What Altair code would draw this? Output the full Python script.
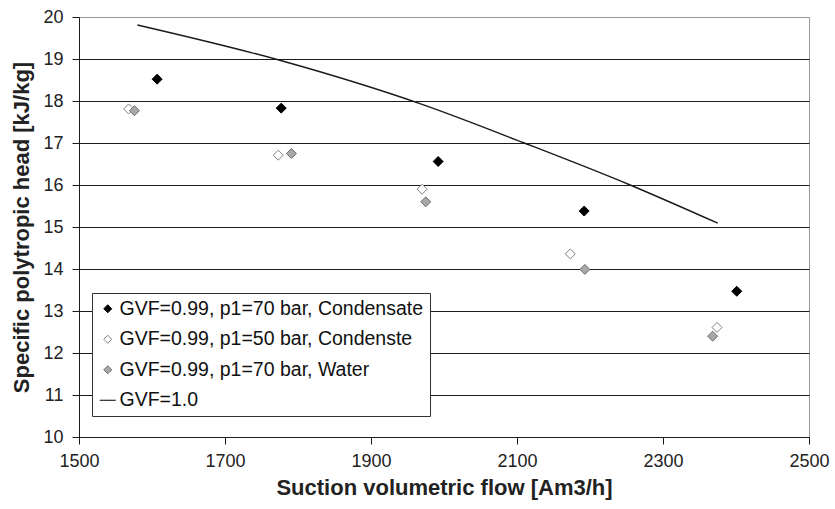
import altair as alt
import pandas as pd

# Series names (as shown in the legend)
series_names = [
    "GVF=0.99, p1=70 bar, Condensate",
    "GVF=0.99, p1=50 bar, Condenste",
    "GVF=0.99, p1=70 bar, Water",
    "GVF=1.0",
]

# Wet-gas test points
flow_c70 = [1607, 1777, 1992, 2192, 2401]
head_c70 = [18.52, 17.83, 16.56, 15.38, 13.47]

flow_c50 = [1568, 1773, 1970, 2173, 2374]
head_c50 = [17.81, 16.71, 15.90, 14.36, 12.61]

flow_w70 = [1576, 1791, 1975, 2193, 2368]
head_w70 = [17.77, 16.75, 15.60, 13.99, 12.40]

# Dry-gas reference curve
flow_gvf1 = [1580, 1775, 1970, 2110, 2255, 2375]
head_gvf1 = [19.81, 18.97, 17.92, 17.00, 16.00, 15.09]

x_ticks = [1500, 1700, 1900, 2100, 2300, 2500]
y_ticks = list(range(10, 21))

points = pd.DataFrame(
    {
        "flow": flow_c70 + flow_c50 + flow_w70,
        "head": head_c70 + head_c50 + head_w70,
        "series": [series_names[0]] * len(flow_c70)
        + [series_names[1]] * len(flow_c50)
        + [series_names[2]] * len(flow_w70),
    }
)
curve = pd.DataFrame({"flow": flow_gvf1, "head": head_gvf1})

FONT = "Liberation Sans"

x_enc = alt.X(
    "flow:Q",
    scale=alt.Scale(domain=[1500, 2500], nice=False, zero=False),
    axis=alt.Axis(
        values=x_ticks,
        format="d",
        title="Suction volumetric flow [Am3/h]",
        grid=False,
        labelFlush=False,
        titlePadding=7,
        labelPadding=8,
    ),
)
y_enc = alt.Y(
    "head:Q",
    scale=alt.Scale(domain=[10, 20], nice=False, zero=False),
    axis=alt.Axis(
        values=y_ticks,
        format="d",
        title="Specific polytropic head [kJ/kg]",
        grid=True,
        gridColor={"condition": {"test": "datum.value == 20", "value": "#9a9a9a"}, "value": "#1a1a1a"},
        labelFlush=False,
        titlePadding=9,
        labelPadding=9,
    ),
)

legend = alt.Legend(
    title=None,
    orient="none",
    legendX=13,
    legendY=276,
    direction="vertical",
    fillColor="white",
    strokeColor="#333333",
    padding=6,
    rowPadding=9.5,
    labelFont=FONT,
    labelFontSize=19.5,
    labelColor="#111111",
    labelLimit=500,
    labelOffset=2,
    symbolSize=alt.ExprRef(expr="datum.label == 'GVF=1.0' ? 256 : 64"),
    symbolStrokeWidth=1,
    symbolOpacity=1,
)

shape_scale = alt.Scale(domain=series_names, range=["diamond", "diamond", "diamond", "stroke"])
fill_scale = alt.Scale(domain=series_names, range=["#000000", "#ffffff", "#a8a8a8", "#000000"])
stroke_scale = alt.Scale(domain=series_names, range=["#000000", "#808080", "#6e6e6e", "#000000"])

marks = (
    alt.Chart(points)
    .mark_point(filled=False, size=100, opacity=1, strokeWidth=1)
    .encode(
        x=x_enc,
        y=y_enc,
        shape=alt.Shape("series:N", scale=shape_scale, legend=legend),
        fill=alt.Fill("series:N", scale=fill_scale, legend=legend),
        stroke=alt.Stroke("series:N", scale=stroke_scale, legend=legend),
    )
)

line = (
    alt.Chart(curve)
    .mark_line(color="#1a1a1a", strokeWidth=1.4, interpolate="monotone")
    .encode(x="flow:Q", y="head:Q")
)

chart = (
    alt.layer(line, marks)
    .properties(
        width=730,
        height=420,
        autosize=alt.AutoSizeParams(type="none"),
        padding={"left": 79, "top": 17, "right": 26, "bottom": 72},
        background="white",
    )
    .configure_view(stroke="#9a9a9a", strokeWidth=1)
    .configure_axis(
        labelFont=FONT,
        labelFontSize=18,
        labelColor="#222222",
        titleFont=FONT,
        titleFontSize=22,
        titleFontWeight="bold",
        titleColor="#222222",
        domainColor="#1a1a1a",
        tickColor="#1a1a1a",
        tickSize=7,
    )
)

chart.save("out.html", embed_options={"renderer": "svg", "actions": False})
